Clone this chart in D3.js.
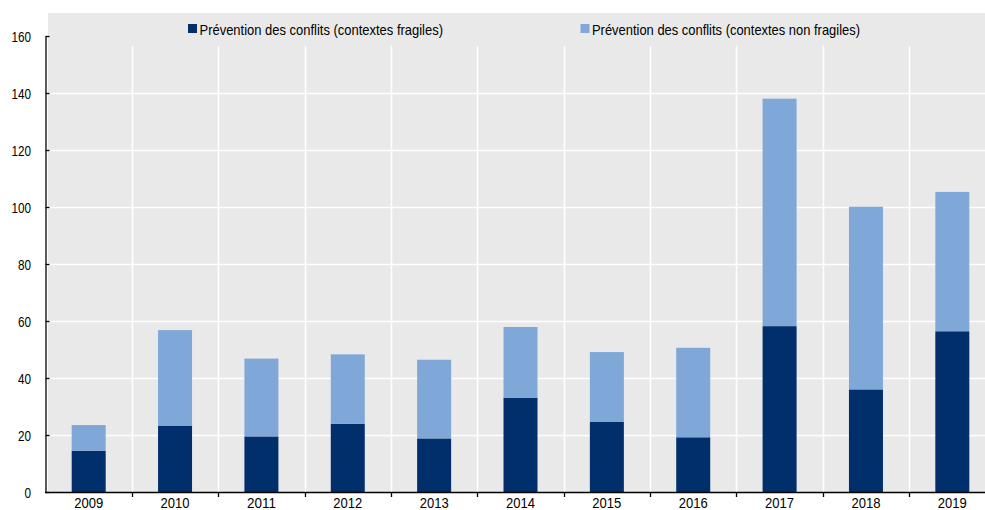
<!DOCTYPE html>
<html>
<head>
<meta charset="utf-8">
<script src="https://cdn.jsdelivr.net/npm/d3@7"></script>
<style>
  html, body { margin: 0; padding: 0; background: #fff; }
  svg { display: block; }
  text { font-family: "Liberation Sans Narrow", "Arial Narrow", "Liberation Sans", Arial, sans-serif; fill: #000; }
</style>
</head>
<body>
<svg id="chart" width="985" height="510"></svg>
<script>
const years = ["2009","2010","2011","2012","2013","2014","2015","2016","2017","2018","2019"];
const fragile = [14.5, 23.3, 19.5, 23.9, 18.8, 33.1, 24.7, 19.2, 58.2, 36.0, 56.4];
const totals  = [23.5, 56.8, 46.8, 48.3, 46.4, 57.9, 49.1, 50.6, 138.0, 100.1, 105.3];
const nonFragile = totals.map((t, i) => +(t - fragile[i]).toFixed(1));
const seriesNames = ["Prévention des conflits (contextes fragiles)", "Prévention des conflits (contextes non fragiles)"];
const seriesColors = ["#002F6C", "#7FA8D9"];
const yTicks = [0, 20, 40, 60, 80, 100, 120, 140, 160];

const svg = d3.select("#chart");
const W = 985, H = 510;
const mLeft = 45.5, mRight = 995.5, mTop = 36, mBottom = 492;
const FONT = '"Liberation Sans Narrow", "Arial Narrow", "Liberation Sans", Arial, sans-serif';

const x = d3.scaleBand().domain(years).range([mLeft, mRight]).paddingInner(0).paddingOuter(0);
const y = d3.scaleLinear().domain([0, 160]).range([mBottom, mTop]);

// background panel
svg.append("rect").attr("x", 48).attr("y", 13).attr("width", W - 48).attr("height", mBottom - 13)
  .attr("fill", "#E9E9E9");

// horizontal gridlines
svg.append("g").selectAll("line").data(yTicks.filter(d => d > 0 && d < 160)).join("line")
  .attr("x1", 48).attr("x2", W)
  .attr("y1", d => Math.round(y(d)) + 0.5).attr("y2", d => Math.round(y(d)) + 0.5)
  .attr("stroke", "#fff").attr("stroke-width", 1.6);

// vertical gridlines at band boundaries
const bounds = years.slice(1).map(yr => x(yr));
svg.append("g").selectAll("line").data(bounds).join("line")
  .attr("x1", d => Math.round(d) + 0.5).attr("x2", d => Math.round(d) + 0.5)
  .attr("y1", 46).attr("y2", mBottom)
  .attr("stroke", "#fff").attr("stroke-width", 1.6);

// stacked data
const rows = years.map((yr, i) => ({ year: yr, a: fragile[i], b: nonFragile[i] }));
const stack = d3.stack().keys(["a", "b"])(rows);
const bw = 34;
svg.append("g").selectAll("g").data(stack).join("g")
  .attr("fill", (d, i) => seriesColors[i])
  .selectAll("rect").data(d => d).join("rect")
  .attr("x", d => x(d.data.year) + x.bandwidth() / 2 - bw / 2)
  .attr("width", bw)
  .attr("y", d => y(d[1]))
  .attr("height", d => y(d[0]) - y(d[1]));

// y axis
const yAxis = d3.axisLeft(y).tickValues(yTicks).tickSize(-4).tickSizeOuter(0);
const gy = svg.append("g").attr("transform", `translate(${mLeft},0)`).call(yAxis);
gy.select(".domain").attr("stroke", "#000").attr("stroke-width", 1.3);
gy.selectAll(".tick line").attr("stroke", "#000").attr("stroke-width", 1.3);
gy.selectAll(".tick text").attr("font-size", 15).attr("x", -14.5).attr("dy", "0.36em")
  .attr("textLength", d => String(d).length * 6.5).attr("lengthAdjust", "spacingAndGlyphs")
  .style("font-family", FONT);

// x axis
const xAxis = d3.axisBottom(x).tickSize(0);
const gx = svg.append("g").attr("transform", `translate(0,${mBottom})`).call(xAxis);
gx.select(".domain").remove();
gx.selectAll(".tick text").attr("font-size", 15).attr("y", 15.5).attr("dy", 0)
  .attr("textLength", d => String(d).length * 7.25).attr("lengthAdjust", "spacingAndGlyphs")
  .style("font-family", FONT);
svg.append("line").attr("x1", mLeft - 0.5).attr("x2", W).attr("y1", mBottom + 0.5).attr("y2", mBottom + 0.5)
  .attr("stroke", "#000").attr("stroke-width", 1.3);
svg.append("g").selectAll("line").data(bounds).join("line")
  .attr("x1", d => Math.round(d) + 0.5).attr("x2", d => Math.round(d) + 0.5)
  .attr("y1", mBottom).attr("y2", mBottom + 5)
  .attr("stroke", "#000").attr("stroke-width", 1.3);

// legend
const legendPos = [188, 580.5];
const legendLen = [243.5, 268];
const lg = svg.append("g").selectAll("g").data(seriesNames).join("g")
  .attr("transform", (d, i) => `translate(${legendPos[i]},24)`);
lg.append("rect").attr("width", 9).attr("height", 9).attr("fill", (d, i) => seriesColors[i]);
lg.append("text").attr("x", 11.5).attr("y", 11).attr("font-size", 15).style("font-family", FONT)
  .attr("textLength", (d, i) => legendLen[i]).attr("lengthAdjust", "spacingAndGlyphs")
  .text(d => d);
</script>
</body>
</html>
